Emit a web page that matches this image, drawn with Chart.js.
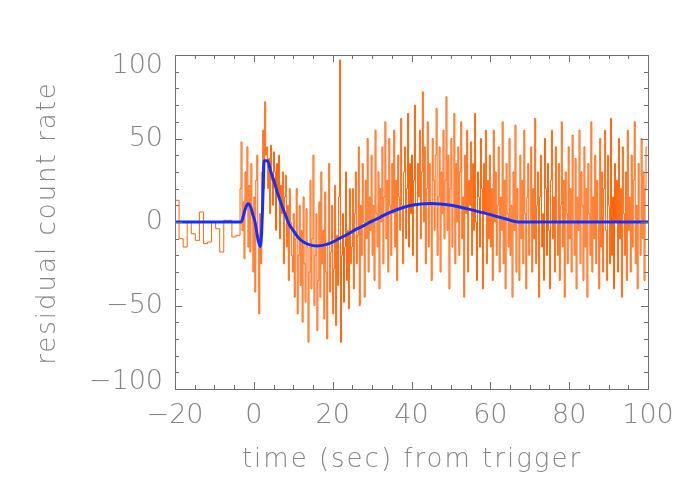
<!DOCTYPE html>
<html>
<head>
<meta charset="utf-8">
<script src="https://cdn.jsdelivr.net/npm/chart.js@4"></script>
<style>
  html, body { margin: 0; padding: 0; background: #fff; }
  canvas { display: block; }
</style>
</head>
<body>
<canvas id="residChart" width="700" height="500"></canvas>
<script>
// residual count rate, coarse ~1 s bins before the trigger
const coarseStart = -20;
const coarseWidth = 1.031;
const coarseRates = [-9, 13, -10, -15, 0, -7, -11, 6, -13, -12, 0, -4, -18, 1, 1, -9];

// fine 0.25 s bins from -3.5 s on
const fineStart = -3.5;
const fineWidth = 0.25;
const fineRates = [
  // -3.5 .. 0
  -8, 20, 48, -5, 12, -22, 30, 8, 45, -15, 22, -18, 35, 5,
  // 0 .. 3.5
  -30, 15, -42, 25, 40, -10, -55, 5, -25, 30, 55, 20, 72, 40,
  // 3.5 .. 10
  45, 20, 38, 5, 46, 25, 10, 42, 30, -5, 35, 18, 40, -10, 22, 5, 30, -25, 15, 28, -15, 10, -35, 20, 0, -20,
  // 10 .. 25
  -30, 5, -45, -10, 20, -55, -20, 10, -38, -5,
  -60, 15, -25, -48, 8, -15, -72, -30, 25, -40,
  -10, 40, -50, -20, 5, -65, -35, 12, -45, 30,
  -25, -5, -58, 18, -30, -70, -12, 35, -42, -18,
  10, -55, -28, 22, -62, -8, -38, 15, 97, -72,
  -20, 5, -48, -15, 30, -35, -5, -52, 20, -25,
  // 25 .. 40
  -15, 20, -40, 5, 30, -25, -8, 45, -50, 10,
  -20, 35, 0, -45, 25, -10, 50, -30, 15, -5,
  40, -20, 10, -35, 55, 5, -15, 30, -40, 20,
  0, 45, -25, 15, 60, -10, 25, -30, 50, 10,
  -20, 35, 5, 55, -15, 25, -35, 40, 15, -5,
  62, 10, -25, 30, 45, -10, 20, 65, -15, 35,
  // 40 .. 60
  5, 40, -20, 25, 70, 10, -30, 35, 15, 55,
  -10, 30, 78, 0, 45, -25, 20, 60, -15, 35,
  10, -35, 50, 25, -5, 40, 68, -20, 15, 45,
  -30, 30, 5, 55, -10, 25, 75, -5, 40, -40,
  20, 50, -15, 10, 65, -25, 35, 0, 45, -20,
  30, 60, -10, 15, -45, 40, 5, 55, -30, 25,
  10, 48, -20, 35, -5, 65, 0, -35, 30, 15,
  -15, 50, 20, -40, 35, 5, 55, -25, 25, -10,
  // 60 .. 100
  40, -15, 20, -35, 55, 0, 30, -20, 10, 45,
  -30, 15, -5, 60, -25, 25, -40, 35, 5, -15,
  50, -20, 10, -45, 30, -5, 58, -30, 20, 0,
  -35, 40, -10, 25, -25, 55, 5, -40, 15, 35,
  -20, 0, 45, -30, 20, -10, 62, -25, 10, 30,
  -45, 15, 40, -15, 5, -35, 50, 20, -20, 35,
  -5, -40, 25, 55, -10, 15, -30, 45, 0, -20,
  35, -35, 10, 60, -15, 25, -45, 30, 5, -25,
  45, -10, 20, -30, 52, 0, -20, 38, -40, 15,
  -5, 55, -25, 30, 10, -35, 45, -15, 20, -45,
  35, 5, -20, 60, -30, 15, -10, 40, -25, 25,
  0, -40, 50, -15, 30, -30, 20, 55, -5, -35,
  40, 10, -25, 62, -20, 15, -40, 35, 0, 25,
  -30, 50, -10, 20, -45, 45, 5, -20, 30, -35,
  55, -5, 15, -30, 40, -15, 25, 60, -25, 10,
  -40, 35, 0, -20, 50, -10, 30, -35, 20, 45
];

// fitted model curve
const modelTimes = [-20, -3.2, -2.5, -2, -1.4, -0.8, -0.2, 0.3, 0.8, 1.2, 1.6, 2.0, 2.3, 2.6, 3.5, 4.2, 5, 6, 7, 8, 9, 10, 11, 12, 14, 16, 18, 20, 22, 24, 26, 28, 30, 32, 35, 40, 45, 50, 55, 60, 64, 67, 100];
const modelRates = [0, 0, 5, 9, 11, 9, 4, 0, -7, -12, -14.6, -5, 15, 36.7, 36.7, 31, 25.3, 17.5, 10.5, 4.3, -1.5, -5, -8.5, -11, -13.5, -14.3, -13.7, -12, -9.5, -7, -4.3, -2, 0.5, 2.8, 6.2, 10, 11.1, 10, 7.4, 4.4, 1.8, 0, 0];

const xTicks = [-20, 0, 20, 40, 60, 80, 100];
const yTicks = [-100, -50, 0, 50, 100];

const countPoints = coarseRates.map((v, i) => ({x: coarseStart + i * coarseWidth, y: v}))
  .concat(fineRates.map((v, i) => ({x: fineStart + i * fineWidth, y: v})));
const modelPoints = modelTimes.map((t, i) => ({x: t, y: modelRates[i]}));

const textColor = '#858585';
const axisColor = '#6e6e6e';
const fontFamily = '"DejaVu Sans", sans-serif';
const minus = v => v < 0 ? '\u2212' + Math.abs(v) : String(v);

const idlFrame = {
  id: 'idlFrame',
  afterDraw(chart) {
    const {ctx, chartArea: a, scales: {x, y}} = chart;
    ctx.save();
    ctx.strokeStyle = axisColor;
    ctx.lineWidth = 1;
    ctx.strokeRect(Math.round(a.left) + 0.5, Math.round(a.top) + 0.5, Math.round(a.right - a.left), Math.round(a.bottom - a.top));
    ctx.beginPath();
    for (let v = -20; v <= 100; v += 5) {
      const px = Math.round(x.getPixelForValue(v)) + 0.5;
      const len = v % 20 === 0 ? 7 : 4;
      ctx.moveTo(px, a.bottom); ctx.lineTo(px, a.bottom - len);
      ctx.moveTo(px, a.top); ctx.lineTo(px, a.top + len);
    }
    for (let v = -100; v <= 100; v += 10) {
      const py = Math.round(y.getPixelForValue(v)) + 0.5;
      const len = v % 50 === 0 ? 7 : 4;
      ctx.moveTo(a.left, py); ctx.lineTo(a.left + len, py);
      ctx.moveTo(a.right, py); ctx.lineTo(a.right - len, py);
    }
    ctx.stroke();

    ctx.fillStyle = textColor;
    ctx.font = '200 27px ' + fontFamily;
    ctx.textAlign = 'right';
    ctx.textBaseline = 'middle';
    yTicks.forEach(v => {
      let py = y.getPixelForValue(v);
      if (v === 100) py += 11;
      if (v === -100) py -= 7;
      ctx.fillText(minus(v), a.left - 12, py);
    });

    ctx.font = '200 26px ' + fontFamily;
    ctx.letterSpacing = '2px';
    ctx.textAlign = 'center';
    ctx.fillText('time (sec) from trigger', 412, 460);
    ctx.translate(48, 223);
    ctx.rotate(-Math.PI / 2);
    ctx.fillText('residual count rate', 0, 0);
    ctx.restore();
  }
};

new Chart(document.getElementById('residChart').getContext('2d'), {
  type: 'line',
  data: {
    datasets: [{
      data: modelPoints,
      borderColor: '#1430ff',
      borderWidth: 3,
      pointRadius: 0,
      cubicInterpolationMode: 'monotone'
    }, {
      data: countPoints,
      borderColor: 'rgb(255, 100, 10)',
      borderWidth: 1,
      pointRadius: 0,
      stepped: 'after'
    }]
  },
  options: {
    responsive: false,
    animation: false,
    layout: {padding: {left: 0, top: 55, right: 52, bottom: 0}},
    plugins: {legend: {display: false}, tooltip: {enabled: false}},
    scales: {
      x: {
        type: 'linear',
        min: -20,
        max: 100,
        afterFit: s => { s.height = 111; },
        afterBuildTicks: s => { s.ticks = xTicks.map(v => ({value: v})); },
        grid: {display: false, drawTicks: false},
        border: {display: false},
        ticks: {
          color: textColor,
          padding: 11,
          maxRotation: 0,
          autoSkip: false,
          font: {family: fontFamily, size: 27, weight: '200'},
          callback: v => minus(v)
        }
      },
      y: {
        min: -100,
        max: 100,
        afterFit: s => { s.width = 175; },
        grid: {display: false, drawTicks: false},
        border: {display: false},
        ticks: {display: false}
      }
    }
  },
  plugins: [idlFrame]
});
</script>
</body>
</html>
